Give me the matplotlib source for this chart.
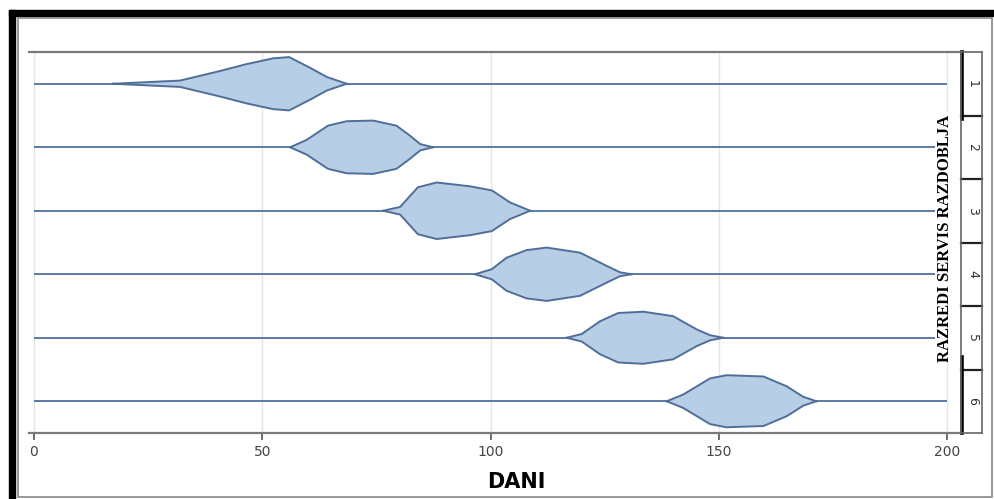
import numpy as np
import matplotlib
matplotlib.use("Agg")
from matplotlib import pyplot as plt
from matplotlib.patches import Rectangle

# violin outlines: x = days, w = half width (row units)
x1 = [17.3, 32, 40.7, 46.6, 52.4, 55.9, 60.5, 64.2, 68.5]
w1 = [0, .05, .20, .31, .40, .42, .25, .105, 0]
x2 = [56.1, 59.7, 64.4, 68.5, 74.3, 79.4, 82.4, 84.6, 87.4]
w2 = [0, .115, .34, .41, .42, .34, .18, .05, 0]
x3 = [76.5, 80.2, 84.1, 88.2, 95.5, 100.3, 104.3, 108.7]
w3 = [0, .06, .37, .445, .385, .32, .13, 0]
x4 = [96.6, 100.3, 103.5, 107.9, 112.3, 119.6, 125.5, 128.4, 130.9]
w4 = [0, .08, .26, .38, .42, .34, .13, .03, 0]
x5 = [116.7, 120, 124, 128, 133.5, 140, 145.2, 148.1, 151]
w5 = [0, .06, .26, .39, .41, .34, .13, .04, 0]
x6 = [138.6, 142.2, 148.1, 151.7, 159.8, 164.9, 168.5, 171.4]
w6 = [0, .105, .36, .41, .39, .235, .07, 0]

classes = ["1", "2", "3", "4", "5", "6"]
xticks = [0, 50, 100, 150, 200]
line_range = (0, 200)

W, H = 994, 499
fig = plt.figure(figsize=(W / 100, H / 100), dpi=100)
fig.patch.set_facecolor("white")

# outer frame: black band left/top, thin grey inner box
fig.add_artist(Rectangle((9 / W, 0), 6 / W, 1 - 10 / H, transform=fig.transFigure,
                         color="black", zorder=0))
fig.add_artist(Rectangle((9 / W, 1 - 16 / H), 1 - 9 / W, 6 / H, transform=fig.transFigure,
                         color="black", zorder=0))
fig.add_artist(Rectangle((18 / W, 2 / H), (992 - 18) / W, (497 - 18) / H,
                         transform=fig.transFigure, fill=False, edgecolor="#888888",
                         linewidth=1.2, zorder=0))

left, right, top, bottom = 29, 961, 52, 433
ax = fig.add_axes([left / W, 1 - bottom / H, (right - left) / W, (bottom - top) / H])
ax_s = fig.add_axes([right / W, 1 - bottom / H, 21 / W, (bottom - top) / H])

px_per_day = (947 - 34) / 200
ax.set_xlim(-(34 - left) / px_per_day, 200 + (right - 947) / px_per_day)
ax.set_ylim(6.5, 0.5)

blue_edge = "#4f6f98"
blue_fill = "#b8cde6"

for gx in xticks:
    ax.axvline(gx, color="#e6e6e6", linewidth=1, zorder=0)

xs = [x1, x2, x3, x4, x5, x6]
ws = [w1, w2, w3, w4, w5, w6]
for i, (xv, wv) in enumerate(zip(xs, ws)):
    row = i + 1
    xv = np.array(xv)
    wv = np.array(wv)
    ax.hlines(row, line_range[0], line_range[1], color="#5a7aa6", linewidth=1.4, zorder=1)
    ax.fill_between(xv, row - wv, row + wv, facecolor=blue_fill, edgecolor="none", zorder=2)
    ax.plot(xv, row - wv, color=blue_edge, linewidth=1.4, zorder=3)
    ax.plot(xv, row + wv, color=blue_edge, linewidth=1.4, zorder=3)

for s in ["left", "right"]:
    ax.spines[s].set_visible(False)
ax.spines["top"].set_color("#7a7a7a")
ax.spines["top"].set_linewidth(1.6)
ax.spines["bottom"].set_color("#7a7a7a")
ax.spines["bottom"].set_linewidth(1.6)
ax.set_yticks([])
ax.set_xticks(xticks)
ax.set_xticklabels([str(t) for t in xticks])
ax.tick_params(axis="x", direction="out", length=5, width=1.2, color="#555555",
               labelsize=10, labelcolor="#444444", pad=4)

fig.text(516 / W, 1 - 482 / H, "DANI", ha="center", va="center",
         fontsize=15, fontweight="bold", family="DejaVu Sans", color="black")

ax.text((945 - left) / (right - left), (bottom - 238) / (bottom - top),
        "RAZREDI SERVIS RAZDOBLJA", rotation=90, ha="center", va="center",
        transform=ax.transAxes, family="Liberation Serif", fontweight="bold",
        fontsize=12, color="black", zorder=5,
        bbox=dict(facecolor="white", edgecolor="none", pad=1.5))

# strip panel with class numbers
ax_s.set_xlim(0, 1)
ax_s.set_ylim(6.5, 0.5)
ax_s.set_xticks([])
ax_s.set_yticks([])
for s in ax_s.spines.values():
    s.set_color("#666666")
    s.set_linewidth(1.2)
for b in np.arange(1.5, 6.5, 1):
    ax_s.plot([0, 1], [b, b], color="#222222", linewidth=1.6, clip_on=False)
ax_s.plot([0.04, 0.04], [0.5, 1.55], color="black", linewidth=2.6, clip_on=False)
ax_s.plot([0.04, 0.04], [5.3, 6.5], color="black", linewidth=2.6, clip_on=False)
for i, c in enumerate(classes):
    ax_s.text(0.55, i + 1, c, rotation=-90, ha="center", va="center",
              fontsize=9, color="#333333")

fig.savefig("out.png", dpi=100)
